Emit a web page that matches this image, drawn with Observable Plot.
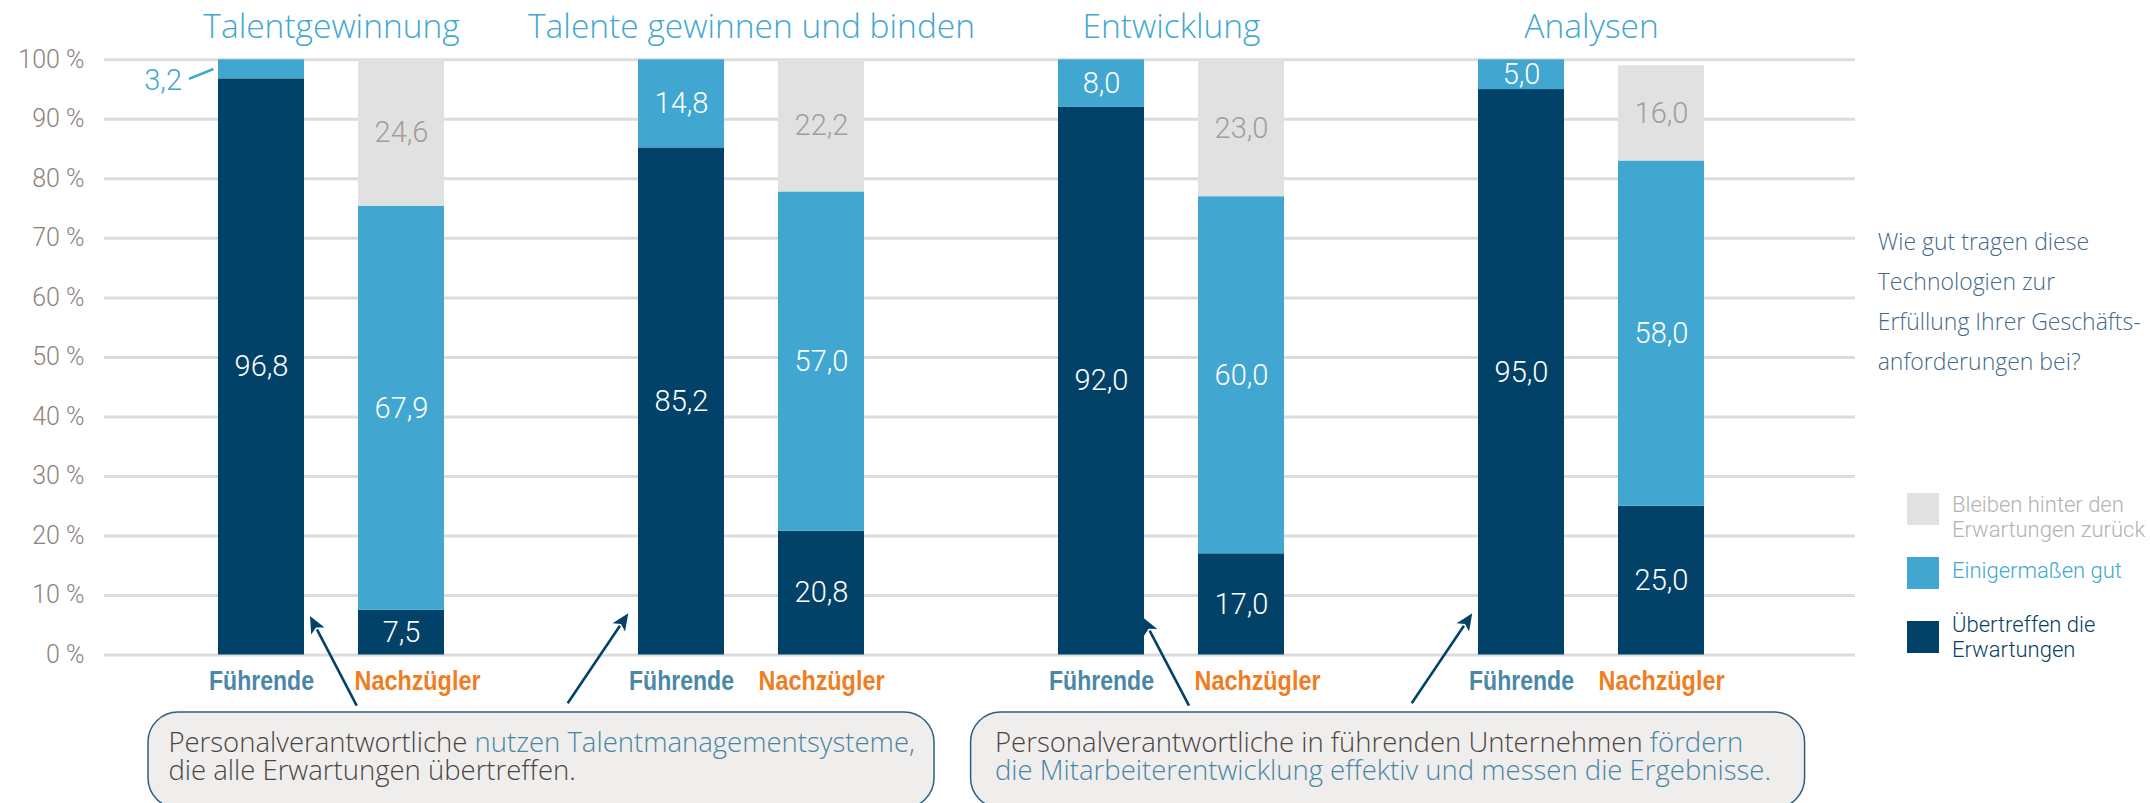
<!DOCTYPE html>
<html>
<head>
<meta charset="utf-8">
<script src="https://cdn.jsdelivr.net/npm/d3@7"></script>
<script src="https://cdn.jsdelivr.net/npm/@observablehq/plot@0.6"></script>
<style>
  html, body { margin: 0; padding: 0; background: #ffffff; }
  #wrap { position: relative; width: 2150px; height: 803px; overflow: hidden; background: #fff; }
  #chart svg { display: block; }
  #overlay { position: absolute; left: 0; top: 0; }
</style>
</head>
<body>
<div id="wrap">
  <div id="chart"></div>
  <svg id="overlay" width="2150" height="803" xmlns="http://www.w3.org/2000/svg"></svg>
</div>
<script>
// ---------- data ----------
const groups = ["Talentgewinnung", "Talente gewinnen und binden", "Entwicklung", "Analysen"];
const sides = ["Führende", "Nachzügler"];
const levels = ["Übertreffen die Erwartungen", "Einigermaßen gut", "Bleiben hinter den Erwartungen zurück"];
// order of bars: G1 Führende, G1 Nachzügler, G2 Führende, ...
const exceed   = [96.8, 7.5, 85.2, 20.8, 92.0, 17.0, 95.0, 25.0];
const somewhat = [3.2, 67.9, 14.8, 57.0, 8.0, 60.0, 5.0, 58.0];
const behind   = [0, 24.6, 0, 22.2, 0, 23.0, 0, 16.0];
const yTicks = [0, 10, 20, 30, 40, 50, 60, 70, 80, 90, 100];
const question = ["Wie gut tragen diese", "Technologien zur", "Erfüllung Ihrer Geschäfts-", "anforderungen bei?"];
const legendLines = [["Bleiben hinter den", "Erwartungen zurück"], ["Einigermaßen gut"], ["Übertreffen die", "Erwartungen"]];
const note1 = [[["Personalverantwortliche ", false], ["nutzen Talentmanagementsysteme,", true]], [["die alle Erwartungen übertreffen.", false]]];
const note2 = [[["Personalverantwortliche in führenden Unternehmen ", false], ["fördern", true]], [["die Mitarbeiterentwicklung effektiv und messen die Ergebnisse.", true]]];

// ---------- colours ----------
const NAVY = "#034268", BLUE = "#41a7d1", GRAY = "#e1e1e1";
const levelColors = [NAVY, BLUE, GRAY];

// ---------- build tables ----------
const key = (gi, s) => `${gi}|${s}`;
const xDomain = [];
groups.forEach((g, gi) => {
  sides.forEach(s => xDomain.push(key(gi, s)));
  if (gi < groups.length - 1) xDomain.push(`gap${gi}`);
});
const series = [exceed, somewhat, behind];
const rows = [];
groups.forEach((g, gi) => sides.forEach((s, si) => {
  const i = gi * 2 + si;
  series.forEach((arr, li) => {
    if (arr[i] > 0) rows.push({group: g, gi, side: s, key: key(gi, s), level: levels[li], li, value: arr[i]});
  });
}));
const barsList = [];
groups.forEach((g, gi) => sides.forEach(s => barsList.push({gi, group: g, side: s, key: key(gi, s)})));
const fmt = v => d3.format(".1f")(v).replace(".", ",");

const inside = d => d.value >= 4;
const catFont = "'Liberation Sans', Arial, sans-serif";

const chart = Plot.plot({
  width: 2150,
  height: 803,
  marginLeft: 104,
  marginRight: 295,
  marginTop: 59.3,
  marginBottom: 148.5,
  style: {fontFamily: "Roboto, 'Liberation Sans', sans-serif", background: "#ffffff", overflow: "visible"},
  x: {type: "band", domain: xDomain, paddingInner: 0.387, paddingOuter: 0.936, align: 0.4286, axis: null},
  y: {domain: [0, 100], axis: null},
  color: {domain: levels, range: levelColors},
  marks: [
    Plot.gridY(yTicks, {stroke: "#dcdcdc", strokeOpacity: 1, strokeWidth: 3}),
    Plot.axisY(yTicks, {tickSize: 0, tickPadding: 20, tickFormat: d => `${d} %`, fontSize: 25, color: "#8b8380", fontWeight: 300, label: null}),
    Plot.barY(rows, Plot.stackY({x: "key", y: "value", fill: "level", order: null})),
    // labels inside the segments (white)
    Plot.text(rows, Plot.stackY({x: "key", y: "value", text: d => inside(d) && d.li < 2 ? fmt(d.value) : null,
      fill: "#ffffff", fontSize: 29, fontWeight: 300})),
    // labels inside grey segments
    Plot.text(rows, Plot.stackY({x: "key", y: "value", text: d => inside(d) && d.li === 2 ? fmt(d.value) : null,
      fill: "#a39d9a", fontSize: 29, fontWeight: 300})),
    // small segments labelled outside
    Plot.text(rows, Plot.stackY({x: "key", y: "value", text: d => !inside(d) ? fmt(d.value) : null,
      fill: BLUE, fontSize: 29, fontWeight: 300, textAnchor: "end", dx: -79.5, dy: 11})),
    // group titles
    Plot.text(groups.map((g, gi) => ({g, k: key(gi, sides[0])})), {x: "k", text: "g", frameAnchor: "top", lineAnchor: "bottom",
      dy: -22, dx: 70, fontSize: 33.5, fill: "#41a7d1", fontFamily: "'Open Sans', sans-serif", fontWeight: 300}),
    // category labels
    Plot.text(barsList.filter(d => d.side === sides[0]), {x: "key", text: "side", frameAnchor: "bottom", lineAnchor: "bottom",
      dy: 34.5, fontSize: 27, fontWeight: 700, fill: "#4b87a6", fontFamily: catFont}),
    Plot.text(barsList.filter(d => d.side === sides[1] && d.gi % 2 === 1), {x: "key", text: "side", frameAnchor: "bottom", lineAnchor: "bottom",
      dy: 34.5, fontSize: 27, fontWeight: 700, fill: "#f07d22", fontFamily: catFont}),
    Plot.text(barsList.filter(d => d.side === sides[1] && d.gi % 2 === 0), {x: "key", text: "side", frameAnchor: "bottom", lineAnchor: "bottom",
      dy: 34.5, dx: 16, fontSize: 27, fontWeight: 700, fill: "#f07d22", fontFamily: catFont})
  ]
});
document.getElementById("chart").appendChild(chart);

// condensed look for the category labels
d3.select(chart).selectAll("text").each(function() {
  const t = this.textContent;
  if (t === sides[0]) d3.select(this).attr("textLength", 105).attr("lengthAdjust", "spacingAndGlyphs");
  if (t === sides[1]) d3.select(this).attr("textLength", 126).attr("lengthAdjust", "spacingAndGlyphs");
});

// ---------- overlay annotations ----------
const ov = d3.select("#overlay");
const xs = chart.scale("x"), ys = chart.scale("y");

// leader line for the small 3,2 segment
{
  const x0 = xs.apply(key(0, sides[0]));
  ov.append("line").attr("x1", x0 - 29).attr("y1", ys.apply(96.8) + 0.5).attr("x2", x0 - 4.5).attr("y2", ys.apply(98.4) + 0.2)
    .attr("stroke", BLUE).attr("stroke-width", 2.6);
}

// arrows
function arrow(x1, y1, x2, y2) {
  const L = 17, W = 7.5;
  const dx = x2 - x1, dy = y2 - y1, len = Math.hypot(dx, dy), ux = dx / len, uy = dy / len;
  const bx = x2 - ux * L, by = y2 - uy * L;
  ov.append("line").attr("x1", x1).attr("y1", y1).attr("x2", bx + ux * 2).attr("y2", by + uy * 2)
    .attr("stroke", NAVY).attr("stroke-width", 2.6);
  ov.append("polygon").attr("points", [[x2, y2], [bx - uy * W, by + ux * W], [bx + ux * 4, by + uy * 4], [bx + uy * W, by - ux * W]].map(p => p.join(",")).join(" "))
    .attr("fill", NAVY);
}
arrow(356.7, 705.7, 310, 616);
arrow(567.7, 703.3, 628.3, 613.3);
arrow(1189, 705.7, 1142.7, 617.3);
arrow(1411.7, 703.3, 1472.3, 613.3);

// note boxes
function note(x, w, lines, tx) {
  ov.append("rect").attr("x", x).attr("y", 712).attr("width", w).attr("height", 96).attr("rx", 30).attr("ry", 30)
    .attr("fill", "#efeeec").attr("stroke", "#2e5f80").attr("stroke-width", 1.5);
  lines.forEach((parts, li) => {
    const t = ov.append("text").attr("x", tx).attr("y", 751.7 + li * 28.5)
      .attr("font-family", "'Open Sans', sans-serif").attr("font-weight", 300).attr("font-size", 27.5);
    parts.forEach(([s, hl]) => t.append("tspan").attr("fill", hl ? "#4a85a4" : "#4a4543").text(s));
  });
}
note(148, 786, note1, 168.4);
note(970.6, 834, note2, 995);

// question text
question.forEach((q, i) => {
  ov.append("text").attr("x", 1877.7).attr("y", 250 + i * 40).attr("fill", "#44698a")
    .attr("font-family", "'Open Sans', sans-serif").attr("font-weight", 300).attr("font-size", 23).text(q);
});

// legend
const legendItems = [
  {color: GRAY, text: "#b3b3b3", lines: legendLines[0], top: 493, base: 512},
  {color: BLUE, text: BLUE, lines: legendLines[1], top: 557, base: 578},
  {color: NAVY, text: "#0b3f62", lines: legendLines[2], top: 621, base: 632}
];
legendItems.forEach(it => {
  ov.append("rect").attr("x", 1907).attr("y", it.top).attr("width", 32).attr("height", 32).attr("fill", it.color);
  it.lines.forEach((l, i) => {
    ov.append("text").attr("x", 1952).attr("y", it.base + i * 25).attr("fill", it.text)
      .attr("font-family", "Roboto, 'Liberation Sans', sans-serif").attr("font-weight", 300).attr("font-size", 22).text(l);
  });
});
</script>
</body>
</html>
